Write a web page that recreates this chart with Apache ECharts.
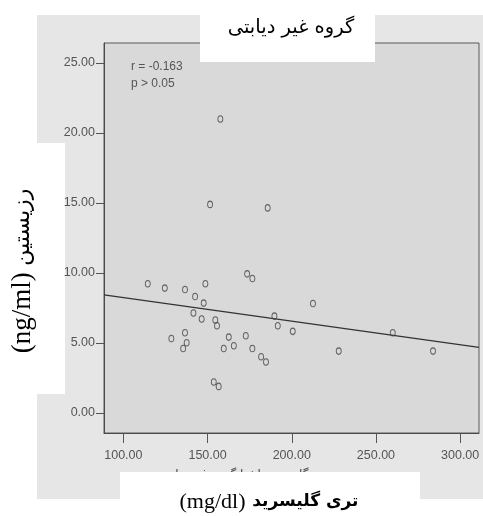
<!DOCTYPE html>
<html>
<head>
<meta charset="utf-8">
<script src="https://cdn.jsdelivr.net/npm/echarts@6/dist/echarts.min.js"></script>
<style>
html,body{margin:0;padding:0;background:#fff;}
#chart{width:483px;height:516px;}
</style>
</head>
<body>
<div id="chart"></div>
<script>
// Data
const triglyceride = [157.6,151.5,185.7,114.5,124.6,136.6,148.7,142.6,147.7,141.6,146.5,154.6,155.6,173.5,176.6,189.7,191.7,200.6,128.5,136.6,137.6,135.5,162.6,172.7,159.6,165.6,176.6,181.8,184.7,153.7,156.6,212.6,227.9,260.0,283.9];
const resistin = [21.0,14.9,14.65,9.23,8.92,8.82,9.23,8.32,7.85,7.14,6.71,6.64,6.23,9.94,9.61,6.92,6.23,5.83,5.32,5.73,5.02,4.61,5.42,5.52,4.61,4.80,4.61,4.02,3.64,2.21,1.90,7.82,4.42,5.73,4.42];
const fitLineX = [88.5, 311.2];
const fitLineY = [8.44, 4.68];
const xTicks = [100, 150, 200, 250, 300];
const yTicks = [0, 5, 10, 15, 20, 25];
const titleText = 'گروه غیر دیابتی';
const statsLines = ['r = -0.163', 'p > 0.05'];
const yName = ['(ng/ml)', 'رزیستین'];
const xName = ['(mg/dl)', 'تری گلیسرید'];
const hiddenAxisTitle = 'تری گلیسرید ناشتا گروه غیر دیابتی';

const points = triglyceride.map((v, i) => [v, resistin[i]]);
const fitPoints = fitLineX.map((v, i) => [v, fitLineY[i]]);

const sans = '"Liberation Sans",Arial,sans-serif';
const serif = '"Liberation Serif","Times New Roman",serif';
const arabicFont = '"DejaVu Sans",sans-serif';

const chart = echarts.init(document.getElementById('chart'), null, {renderer: 'canvas'});
chart.setOption({
  animation: false,
  backgroundColor: '#ffffff',
  grid: {
    left: 104, right: 4, top: 43, bottom: 83,
    show: true, backgroundColor: '#d9d9d9', borderColor: '#5a5a5a', borderWidth: 1
  },
  xAxis: {
    type: 'value', min: 88.5, max: 311.2,
    axisLine: {show: true, onZero: false, lineStyle: {color: '#4a4a4a', width: 1}},
    axisTick: {show: true, inside: false, length: 10, customValues: xTicks, lineStyle: {color: '#555'}},
    axisLabel: {show: true, customValues: xTicks, margin: 16, fontFamily: sans, fontSize: 12.5, color: '#555',
      formatter: v => v.toFixed(2)},
    splitLine: {show: false}
  },
  yAxis: {
    type: 'value', min: -1.43, max: 26.43,
    axisLine: {show: true, onZero: false, lineStyle: {color: '#4a4a4a', width: 1}},
    axisTick: {show: true, inside: false, length: 8, customValues: yTicks, lineStyle: {color: '#555'}},
    axisLabel: {show: true, customValues: yTicks, margin: 9, fontFamily: sans, fontSize: 12.5, color: '#555',
      formatter: v => v.toFixed(2)},
    splitLine: {show: false}
  },
  series: [
    {
      type: 'scatter', data: points, symbol: 'circle', symbolSize: [5, 6.5],
      itemStyle: {color: 'rgba(0,0,0,0)', borderColor: '#444', borderWidth: 1},
      z: 3
    },
    {
      type: 'line', data: fitPoints, symbol: 'none', showSymbol: false,
      lineStyle: {color: '#333', width: 1.2}, z: 2
    }
  ],
  graphic: [
    {type: 'rect', z: -20, shape: {x: 37, y: 15, width: 446, height: 484}, style: {fill: '#e6e6e6'}, silent: true},
    {type: 'rect', z: -19, shape: {x: 37, y: 143, width: 28, height: 251}, style: {fill: '#ffffff'}, silent: true},
    {type: 'text', z: -18, style: {x: 245, y: 469, text: hiddenAxisTitle, fontFamily: arabicFont, fontSize: 12, fill: '#444', align: 'center', verticalAlign: 'top'}, silent: true},
    {type: 'rect', z: -17, shape: {x: 120, y: 472, width: 300, height: 44}, style: {fill: '#ffffff'}, silent: true},
    {type: 'text', z: -16, style: {x: 269, y: 502, align: 'center', verticalAlign: 'middle',
      text: '{a|' + xName[0] + '}  {b|' + xName[1] + '}',
      rich: {
        a: {fontFamily: serif, fontSize: 22, fill: '#000'},
        b: {fontFamily: arabicFont, fontSize: 17, fontWeight: 'bold', fill: '#000'}
      }}, silent: true},
    {type: 'text', z: -16, x: 23, y: 271, rotation: Math.PI / 2, style: {x: 0, y: 0, align: 'center', verticalAlign: 'middle',
      text: '{a|' + yName[0] + '}  {b|' + yName[1] + '}',
      rich: {
        a: {fontFamily: serif, fontSize: 27, fill: '#000'},
        b: {fontFamily: arabicFont, fontSize: 22, fill: '#000'}
      }}, silent: true},
    {type: 'rect', z: 100, shape: {x: 200, y: 15, width: 175, height: 47}, style: {fill: '#ffffff'}, silent: true},
    {type: 'text', z: 101, style: {x: 291, y: 28, text: titleText, align: 'center', verticalAlign: 'middle', fontFamily: arabicFont, fontSize: 19.5, fill: '#000'}, silent: true},
    {type: 'text', z: 50, style: {x: 131, y: 67, text: statsLines[0], align: 'left', verticalAlign: 'middle', fontFamily: sans, fontSize: 12, fill: '#555'}, silent: true},
    {type: 'text', z: 50, style: {x: 131, y: 84, text: statsLines[1], align: 'left', verticalAlign: 'middle', fontFamily: sans, fontSize: 12, fill: '#555'}, silent: true}
  ]
});
</script>
</body>
</html>
